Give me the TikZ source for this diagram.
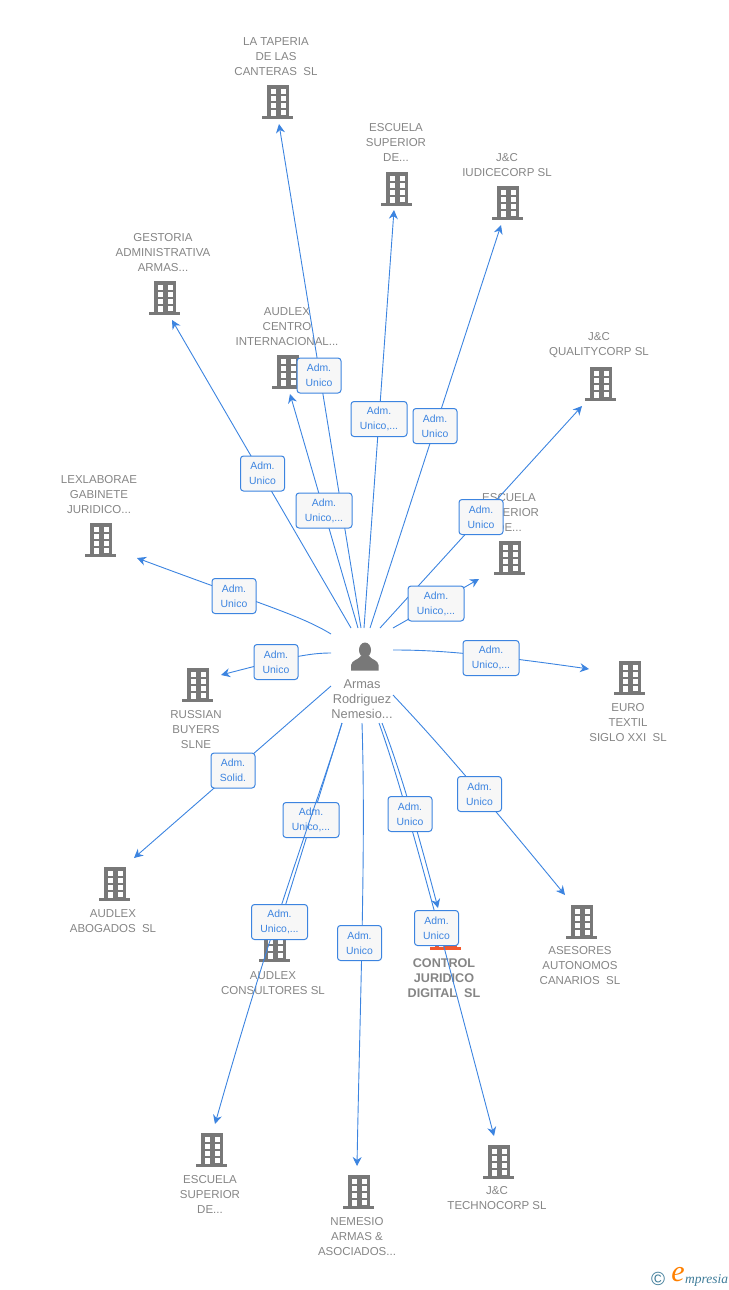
\documentclass[tikz,border=0pt]{standalone}
\usepackage{fontspec}
\setmainfont{Liberation Sans}
\newfontfamily\logofont{Liberation Serif}
\usetikzlibrary{arrows.meta}
\definecolor{linkblue}{HTML}{3C84E0}
\definecolor{namegray}{HTML}{858585}
\definecolor{iconorange}{HTML}{F4572B}
\definecolor{logoteal}{HTML}{3F7C99}
\newcommand{\admlab}[1]{\raisebox{-1.5pt}{Adm.}\\\raisebox{-1.5pt}{#1}}
\tikzset{
  link/.style={draw=linkblue, line width=0.9pt, -{Stealth[length=9pt,width=9pt]}},
  adm/.style={draw=linkblue, line width=1pt, rounded corners=3pt, fill=white!97!black, text=linkblue,
    minimum width=44pt, minimum height=35pt, inner sep=0pt, align=center,
    font=\fontsize{10.4}{15}\selectfont},
  admwide/.style={adm, minimum width=56pt},
  bldname/.style={text=namegray, align=center, inner sep=0pt, font=\fontsize{11.5}{15}\selectfont},
  pics/bldg/.style={code={
    \fill[#1] (-11,-17) rectangle (11,15);
    \fill[#1] (-16,14) rectangle (15,16.5);
    \foreach \wy in {-13,-6,1} {
      \fill[white] (-7.5,\wy) rectangle (-2.5,{\wy+4.5});
      \fill[white] (2.5,\wy) rectangle (7.5,{\wy+4.5});
    }
    \fill[white] (-7.5,8) rectangle (-2.5,14);
    \fill[white] (2.5,8) rectangle (7.5,13);
  }},
  pics/bldg/.default=black!53
}
\begin{document}
\begin{tikzpicture}[x=1pt,y=-1pt]
  \useasboundingbox (0,0) rectangle (728,1290);

  % buildings and their names
  \pic at (278,102) {bldg};
  \node[bldname] (tapName) at (276,57) {LA TAPERIA\\DE LAS\\CANTERAS\ \ SL};
  \pic at (397,189) {bldg};
  \node[bldname] (escTopName) at (396,142.5) {ESCUELA\\SUPERIOR\\DE...};
  \pic at (508,203) {bldg};
  \node[bldname] (iudName) at (507,165.5) {J\&C\\IUDICECORP SL};
  \pic at (165,298) {bldg};
  \node[bldname] (gesName) at (163,252.5) {GESTORIA\\ADMINISTRATIVA\\ARMAS...};
  \pic at (288,372) {bldg};
  \node[bldname] (cenName) at (287,326.5) {AUDLEX\\CENTRO\\INTERNACIONAL...};
  \pic at (601,384) {bldg};
  \node[bldname] (quaName) at (599,345.5) {J\&C\\QUALITYCORP SL};
  \pic at (510,558) {bldg};
  \node[bldname] (escMidName) at (509,512.5) {ESCUELA\\SUPERIOR\\DE...};
  \pic at (101,540) {bldg};
  \node[bldname] (lexName) at (99,494.5) {LEXLABORAE\\GABINETE\\JURIDICO...};
  \pic at (198,685) {bldg};
  \node[bldname] (rusName) at (196,729.5) {RUSSIAN\\BUYERS\\SLNE};
  \pic at (630,678) {bldg};
  \node[bldname] (eurName) at (628,722.5) {EURO\\TEXTIL\\SIGLO XXI\ \ SL};
  \pic at (115,884) {bldg};
  \node[bldname] (aboName) at (113,921.5) {AUDLEX\\ABOGADOS\ \ SL};
  \pic at (582,922) {bldg};
  \node[bldname] (aseName) at (580,965.5) {ASESORES\\AUTONOMOS\\CANARIOS\ \ SL};
  \pic at (275,945) {bldg};
  \node[bldname] (conName) at (273,983.5) {AUDLEX\\CONSULTORES SL};
  \pic at (446,933) {bldg=iconorange};
  \node[bldname, font=\fontsize{12.6}{15}\selectfont\bfseries] (ctrName) at (444,978.5) {CONTROL\\JURIDICO\\DIGITAL\ \ SL};
  \pic at (212,1150) {bldg};
  \node[bldname] (escLowName) at (210,1194.5) {ESCUELA\\SUPERIOR\\DE...};
  \pic at (359,1192) {bldg};
  \node[bldname] (nemName) at (357,1236.5) {NEMESIO\\ARMAS \&\\ASOCIADOS...};
  \pic at (499,1162) {bldg};
  \node[bldname] (tecName) at (497,1198.5) {J\&C\\TECHNOCORP SL};

  % the person
  \fill[black!53] (365,650) ellipse (6 and 7.5);
  \fill[black!53] (351,670.5) -- (351,665) .. controls (352,660) and (358,660) .. (361,656)
    -- (369,656) .. controls (372,660) and (378,660) .. (378.5,665) -- (378.5,670.5) -- cycle;
  \node[bldname, font=\fontsize{12.8}{15}\selectfont] (perName) at (362,699.5) {Armas\\Rodriguez\\Nemesio...};

  % ends of the connectors
  \coordinate (tapS) at (361,628);    \coordinate (tapE) at (279,124);
  \coordinate (escTopS) at (364,628); \coordinate (escTopE) at (394,210);
  \coordinate (iudS) at (370,628);    \coordinate (iudE) at (501,225);
  \coordinate (gesS) at (351,628);    \coordinate (gesE) at (172,320);
  \coordinate (cenS) at (358,628);    \coordinate (cenE) at (290,394);
  \coordinate (quaS) at (380,628);    \coordinate (quaE) at (582,406);
  \coordinate (escMidS) at (393,628); \coordinate (escMidE) at (479,579);
  \coordinate (lexS) at (331,634);    \coordinate (lexE) at (137,558);
  \coordinate (rusS) at (331,653);    \coordinate (rusE) at (221,675);
  \coordinate (eurS) at (393,650);    \coordinate (eurE) at (589,669);
  \coordinate (aboS) at (331,686);    \coordinate (aboE) at (134,858);
  \coordinate (aseS) at (393,695);    \coordinate (aseE) at (565,895);
  \coordinate (ctrS) at (382,723);    \coordinate (ctrE) at (438,908);
  \coordinate (tecS) at (379,723);    \coordinate (tecE) at (494,1136);
  \coordinate (conS) at (342,723);    \coordinate (conE) at (281.5,918);
  \coordinate (escLowS) at (342,723); \coordinate (escLowE) at (215,1124);
  \coordinate (nemS) at (362,723);    \coordinate (nemE) at (357,1166);

  % connectors
  \draw[link] (tapS) -- (tapE);
  \draw[link] (escTopS) -- (escTopE);
  \draw[link] (iudS) -- (iudE);
  \draw[link] (gesS) -- (gesE);
  \draw[link] (cenS) -- (cenE);
  \draw[link] (quaS) -- (quaE);
  \draw[link] (escMidS) -- (escMidE);
  \draw[link] (lexS) .. controls (300,615) and (260,604) .. (lexE);
  \draw[link] (rusS) .. controls (310,653) and (290,657) .. (rusE);
  \draw[link] (eurS) .. controls (430,650) and (470,652) .. (eurE);
  \draw[link] (aboS) -- (aboE);
  \draw[link] (aseS) .. controls (420,724) and (450,755) .. (aseE);
  \draw[link] (ctrS) .. controls (398,765) and (412,810) .. (ctrE);
  \draw[link] (tecS) .. controls (403,790) and (433,905) .. (tecE);
  \draw[link] (conS) -- (conE);
  \draw[link] (nemS) .. controls (366,850) and (360,1000) .. (nemE);

  % labels on the connectors
  \node[adm] (tapAdm) at (319,375.5) {\admlab{Unico}};
  \node[admwide] (escTopAdm) at (379,419) {\admlab{Unico,...}};
  \node[adm] (iudAdm) at (435,426) {\admlab{Unico}};
  \node[adm] (gesAdm) at (262.5,473.5) {\admlab{Unico}};
  \node[admwide] (cenAdm) at (324,510.5) {\admlab{Unico,...}};
  \node[adm] (quaAdm) at (481,517) {\admlab{Unico}};
  \node[admwide] (escMidAdm) at (436,603.5) {\admlab{Unico,...}};
  \node[adm] (lexAdm) at (234,596) {\admlab{Unico}};
  \node[adm] (rusAdm) at (276,662) {\admlab{Unico}};
  \node[admwide] (eurAdm) at (491,658) {\admlab{Unico,...}};
  \node[adm] (aboAdm) at (233,770.5) {\admlab{Solid.}};
  \node[adm] (aseAdm) at (479.5,794) {\admlab{Unico}};
  \node[adm] (ctrAdm) at (410,814) {\admlab{Unico}};
  \node[admwide] (conAdm) at (311,820) {\admlab{Unico,...}};
  % this one runs over the label above
  \draw[link] (escLowS) .. controls (322,790) and (277,905) .. (escLowE);
  \node[admwide] (escLowAdm) at (279.5,922) {\admlab{Unico,...}};
  \node[adm] (nemAdm) at (359.5,943) {\admlab{Unico}};
  \node[adm] (tecAdm) at (436.5,928) {\admlab{Unico}};

  % mark in the corner
  \node[inner sep=0pt, text=logoteal, font=\fontsize{19}{19}\selectfont] (copyMark) at (658,1279) {©};
  \node[inner sep=0pt, text=orange, font=\logofont\fontsize{30}{30}\selectfont\itshape] (logoE) at (678,1275) {e};
  \node[inner sep=0pt, anchor=west, text=logoteal, font=\logofont\fontsize{13.5}{14}\selectfont\itshape] (logoRest) at (685,1280) {mpresia};
\end{tikzpicture}
\end{document}
